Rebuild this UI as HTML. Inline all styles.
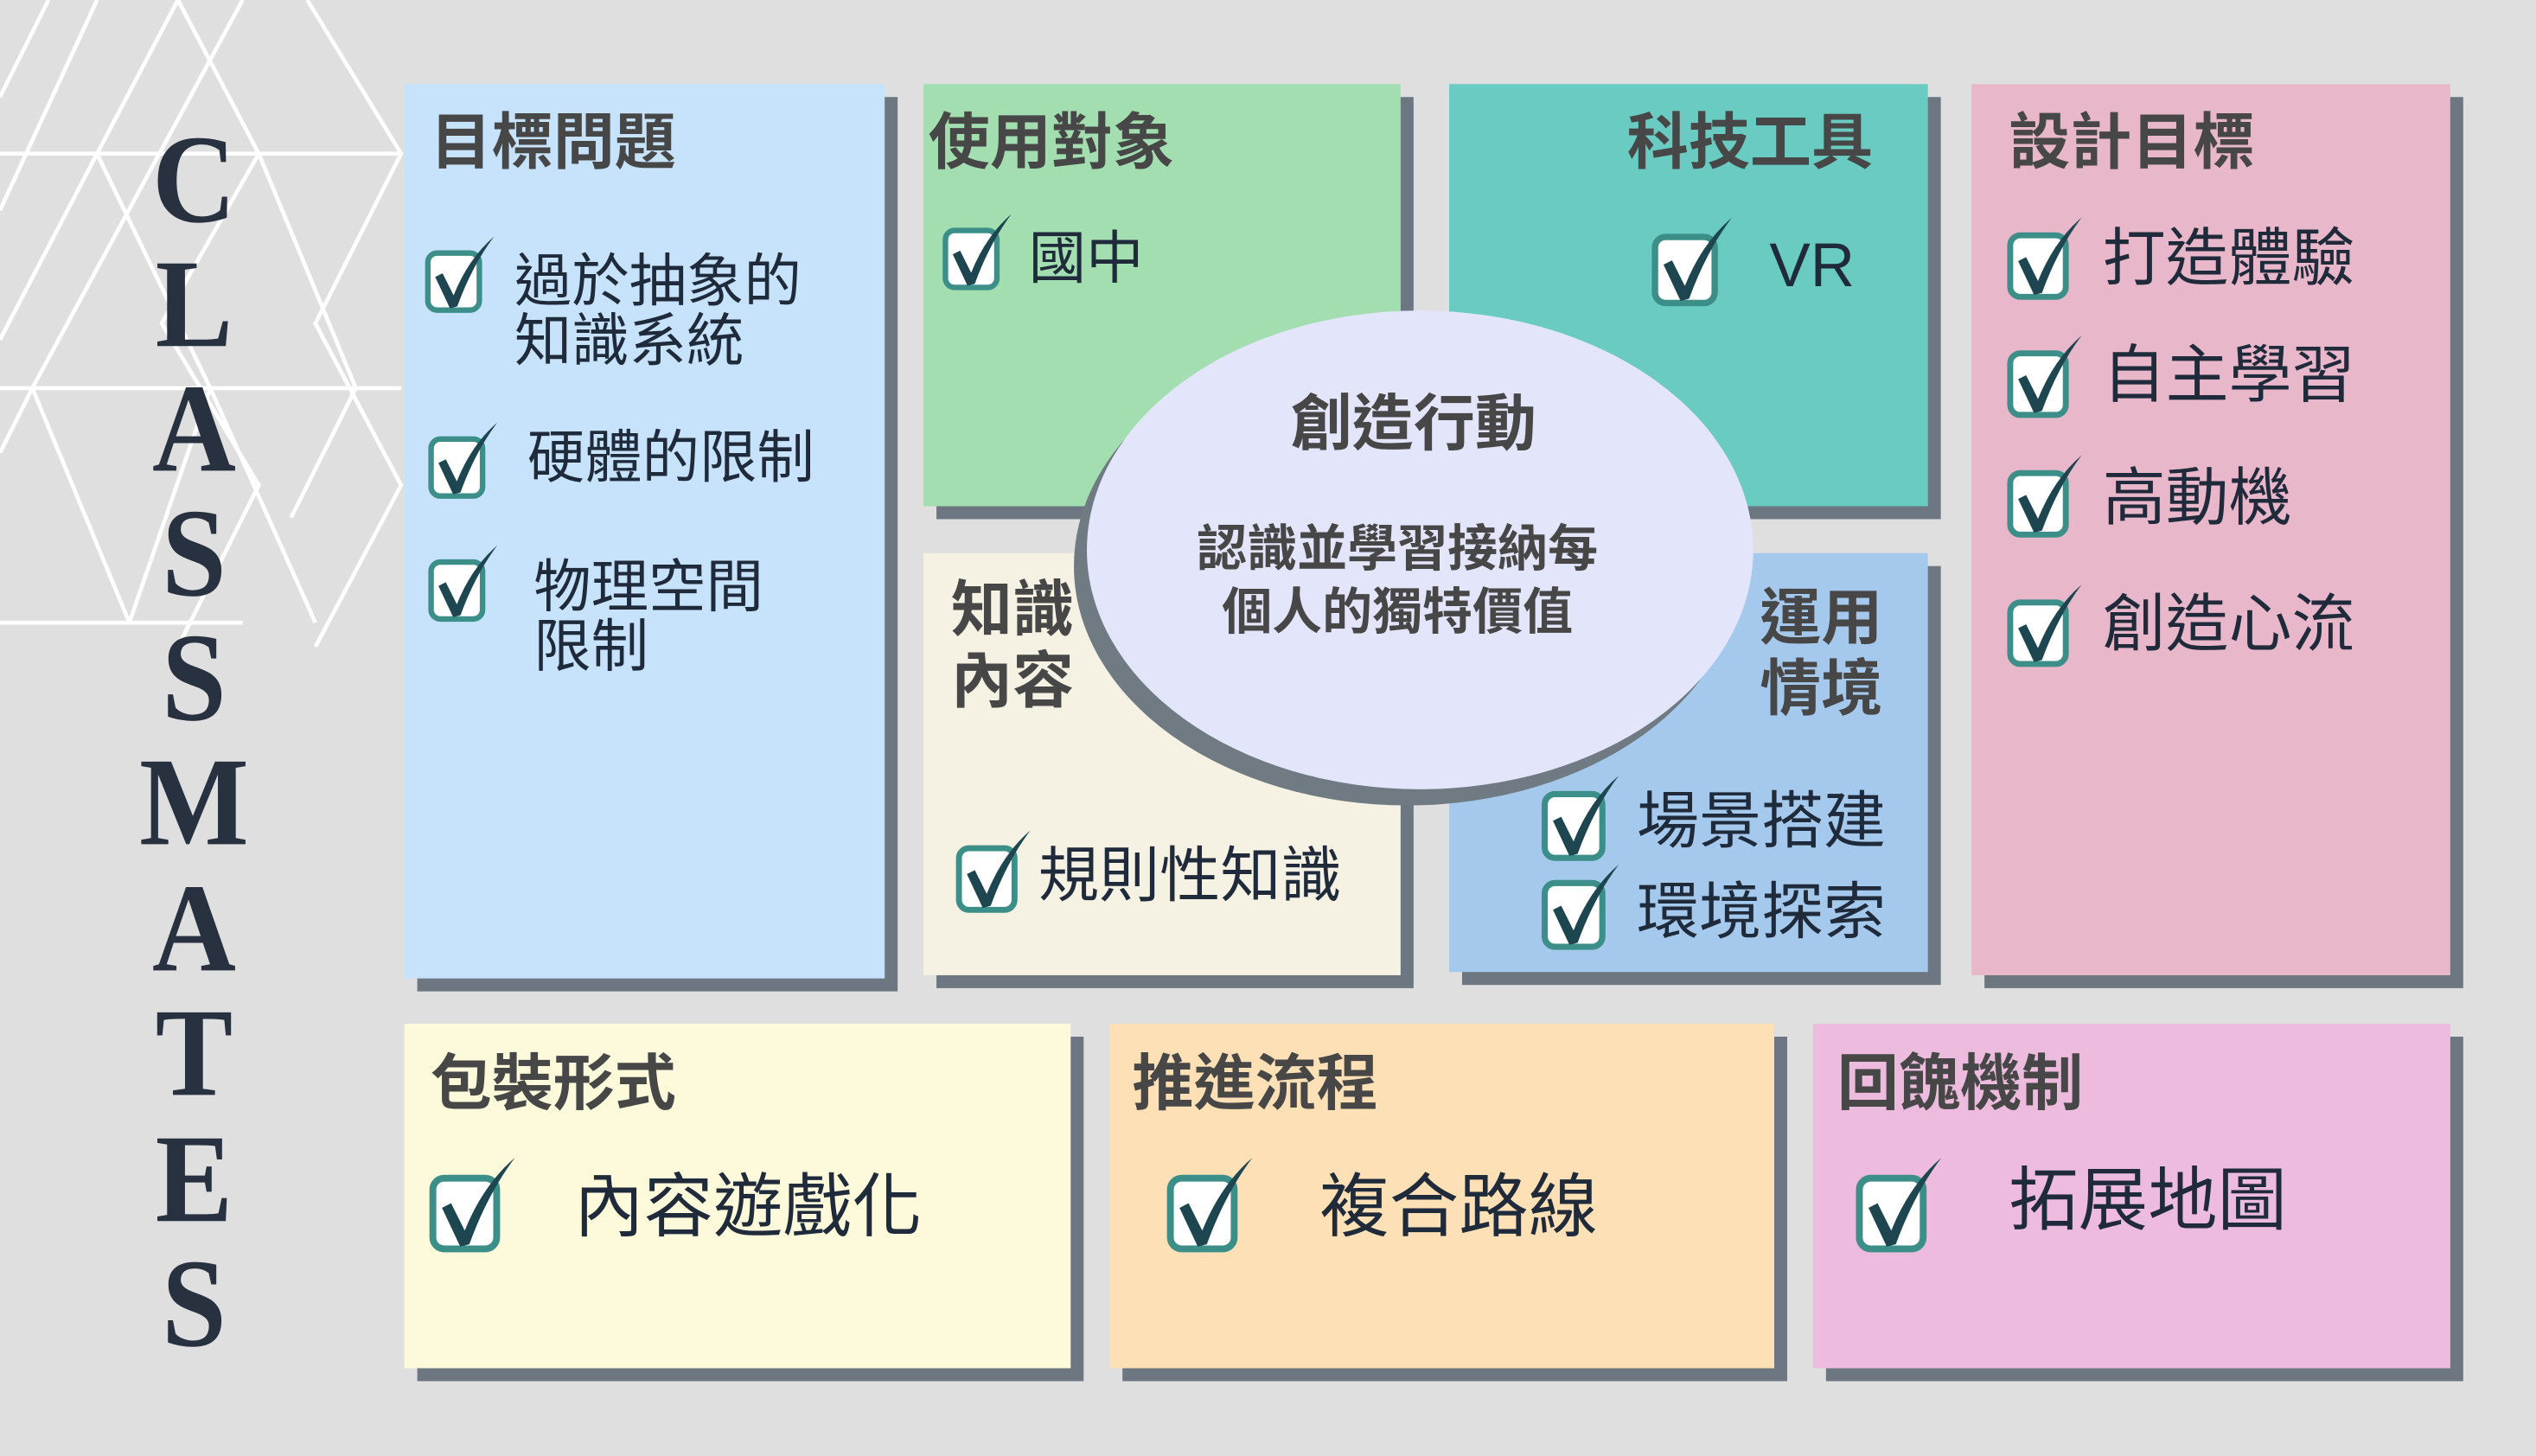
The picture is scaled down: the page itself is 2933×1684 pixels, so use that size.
<!DOCTYPE html>
<html><head><meta charset="utf-8"><style>
html,body{margin:0;padding:0;background:#dfdfdf;overflow:hidden}
#w{position:absolute;left:0;top:0;width:1568px;height:900px;transform:scale(1.87054);transform-origin:0 0;font-family:"Liberation Sans","Noto Sans CJK TC",sans-serif}
.b{position:absolute;box-shadow:8px 8px 0 #6c7781}
.h{position:absolute;font-weight:bold;color:#474747;font-size:38px;line-height:1.15;white-space:nowrap}
.t{position:absolute;color:#1f2a3a;font-size:35.5px;line-height:1.05;white-space:nowrap}
.c{position:absolute}
.L{position:absolute;left:50px;width:140px;text-align:center;font-family:"Liberation Serif",serif;font-weight:bold;font-size:78px;color:#27313f;line-height:1;transform:scaleX(0.92)}
</style></head><body><div id="w">
<svg width="0" height="0" style="position:absolute"><defs>
<symbol id="ck" viewBox="0 0 40 44"><rect x="2" y="11" width="28" height="31" rx="5" fill="#fff" stroke="#3c8f88" stroke-width="3"/><path d="M6 24 L10 22 L16 34 Q24 14 38 2 Q26 18 18 40 L14 41 Z" fill="#1d4651"/></symbol>
</defs></svg>
<svg style="position:absolute;left:0;top:0" width="260" height="400" viewBox="0 0 260 400" fill="none" stroke="#fff" stroke-width="2.5">
<path d="M0 130 L60 0 M30 0 L0 60 M190 0 L248 95 L195 200 L248 300 L195 400 M0 95 L248 95 M0 240 L248 240 M0 385 L150 385 M110 0 L60 95 L0 210 M110 0 L160 95 L100 200 L160 300 L110 400 M60 95 L130 240 L80 385 M150 0 L20 240 L80 385 M20 240 L0 280 M160 95 L220 240 L180 320 M130 240 L195 385"/>
</svg>
<div class="L" style="top:72px">C</div><div class="L" style="top:149px">L</div><div class="L" style="top:226px">A</div><div class="L" style="top:303px">S</div><div class="L" style="top:380px">S</div><div class="L" style="top:457px">M</div><div class="L" style="top:535px">A</div><div class="L" style="top:612px">T</div><div class="L" style="top:690px">E</div><div class="L" style="top:767px">S</div>

<div class="b" style="left:250px;top:52px;width:297px;height:553px;background:#c7e3fb"></div>
<div class="b" style="left:571px;top:52px;width:295px;height:261px;background:#a3deb1"></div>
<div class="b" style="left:896px;top:52px;width:296px;height:261px;background:#69cbc1"></div>
<div class="b" style="left:1219px;top:52px;width:296px;height:551px;background:#e9b7ca"></div>
<div class="b" style="left:571px;top:342px;width:295px;height:261px;background:#f5f1e3"></div>
<div class="b" style="left:896px;top:342px;width:296px;height:259px;background:#a5c9ec"></div>
<div class="b" style="left:250px;top:633px;width:412px;height:213px;background:#fcfadb"></div>
<div class="b" style="left:686px;top:633px;width:411px;height:213px;background:#fde0b5"></div>
<div class="b" style="left:1121px;top:633px;width:394px;height:213px;background:#ecbbdd"></div>

<div style="position:absolute;left:664px;top:202px;width:412px;height:296px;border-radius:50%;background:#6f7a82"></div>
<div style="position:absolute;left:672px;top:192px;width:412px;height:296px;border-radius:50%;background:#e3e5fa"></div>

<div class="h" style="left:266px;top:68px">目標問題</div>
<svg class="c" style="left:262px;top:144px" width="46" height="50"><use href="#ck"/></svg>
<div class="t" style="left:318px;top:156px">過於抽象的<br>知識系統</div>
<svg class="c" style="left:264px;top:259px" width="46" height="50"><use href="#ck"/></svg>
<div class="t" style="left:326px;top:265px">硬體的限制</div>
<svg class="c" style="left:264px;top:335px" width="46" height="50"><use href="#ck"/></svg>
<div class="t" style="left:330px;top:345px">物理空間<br>限制</div>

<div class="h" style="left:574px;top:68px">使用對象</div>
<svg class="c" style="left:582px;top:130px" width="46" height="50"><use href="#ck"/></svg>
<div class="t" style="left:636px;top:142px">國中</div>

<div class="h" style="left:1006px;top:68px">科技工具</div>
<svg class="c" style="left:1018px;top:132px" width="58" height="58"><use href="#ck"/></svg>
<div class="t" style="left:1094px;top:146px;font-size:38px">VR</div>

<div class="h" style="left:1242px;top:68px">設計目標</div>
<svg class="c" style="left:1238px;top:132px" width="54" height="54"><use href="#ck"/></svg>
<div class="t" style="left:1300px;top:141px;font-size:39px">打造體驗</div>
<svg class="c" style="left:1238px;top:205px" width="54" height="54"><use href="#ck"/></svg>
<div class="t" style="left:1300px;top:213px;font-size:39px">自主學習</div>
<svg class="c" style="left:1238px;top:279px" width="54" height="54"><use href="#ck"/></svg>
<div class="t" style="left:1300px;top:289px;font-size:39px">高動機</div>
<svg class="c" style="left:1238px;top:359px" width="54" height="54"><use href="#ck"/></svg>
<div class="t" style="left:1300px;top:367px;font-size:39px">創造心流</div>

<div class="h" style="left:588px;top:357px">知識<br>內容</div>
<svg class="c" style="left:588px;top:511px" width="54" height="54"><use href="#ck"/></svg>
<div class="t" style="left:642px;top:522px;font-size:37.5px">規則性知識</div>

<div class="h" style="left:1088px;top:362px">運用<br>情境</div>
<svg class="c" style="left:950px;top:477px" width="56" height="56"><use href="#ck"/></svg>
<div class="t" style="left:1012px;top:489px;font-size:38.5px">場景搭建</div>
<svg class="c" style="left:950px;top:532px" width="56" height="56"><use href="#ck"/></svg>
<div class="t" style="left:1012px;top:545px;font-size:38.5px">環境探索</div>

<div class="h" style="left:798px;top:242px;font-size:38px">創造行動</div>
<div class="h" style="left:740px;top:320px;font-size:31px;text-align:center;line-height:1.27">認識並學習接納每<br>個人的獨特價值</div>

<div class="h" style="left:266px;top:650px">包裝形式</div>
<svg class="c" style="left:262px;top:713px" width="62" height="62"><use href="#ck"/></svg>
<div class="t" style="left:355px;top:725px;font-size:43px">內容遊戲化</div>

<div class="h" style="left:700px;top:650px">推進流程</div>
<svg class="c" style="left:718px;top:713px" width="62" height="62"><use href="#ck"/></svg>
<div class="t" style="left:816px;top:725px;font-size:43px">複合路線</div>

<div class="h" style="left:1136px;top:650px">回餽機制</div>
<svg class="c" style="left:1144px;top:713px" width="62" height="62"><use href="#ck"/></svg>
<div class="t" style="left:1242px;top:721px;font-size:43px">拓展地圖</div>
</div></body></html>
